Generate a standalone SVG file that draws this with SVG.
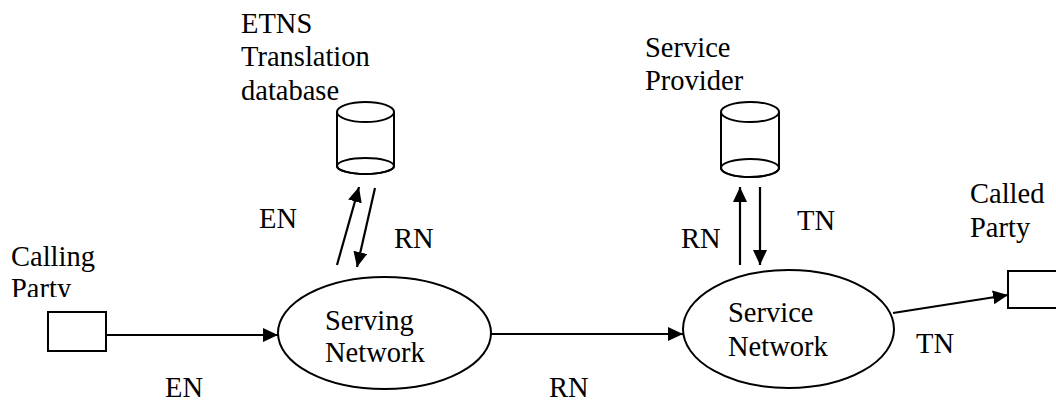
<svg xmlns="http://www.w3.org/2000/svg" width="1056" height="401" viewBox="0 0 1056 401">
<style>
text{font-family:"Liberation Serif","Times New Roman",serif;font-size:28.5px;fill:#000}
.s{fill:#fff;stroke:#000;stroke-width:2}
.c{stroke:#000;stroke-width:2.2;fill:none;marker-end:url(#ah)}
</style>
<defs>
<marker id="ah" markerUnits="userSpaceOnUse" markerWidth="16" markerHeight="14" refX="15" refY="7" orient="auto">
<path d="M0,0 L15,7 L0,14 z" fill="#000"/>
</marker>
<clipPath id="cp"><rect x="0" y="0" width="200" height="297"/></clipPath>
</defs>
<g id="calling-party">
<rect class="s" x="48" y="312" width="58" height="39"/>
<g clip-path="url(#cp)"><text x="11" y="266">Calling</text><text x="11" y="298">Party</text></g>
</g>
<g id="serving-network">
<ellipse class="s" cx="384.5" cy="333" rx="106.5" ry="56"/>
<text x="325" y="330">Serving</text>
<text x="325" y="362">Network</text>
</g>
<g id="service-network">
<ellipse class="s" cx="788.5" cy="329" rx="105.5" ry="59"/>
<text x="728" y="322">Service</text>
<text x="728" y="356">Network</text>
</g>
<g id="etns-db">
<path class="s" d="M337,112 L337,166 A28.5,8 0 0 0 394,166 L394,112"/>
<ellipse class="s" cx="365.5" cy="166" rx="28.5" ry="8" fill="none" style="fill:none"/>
<ellipse class="s" cx="365.5" cy="112" rx="28.5" ry="10"/>
<text x="241" y="33">ETNS</text>
<text x="241" y="66">Translation</text>
<text x="241" y="100">database</text>
</g>
<g id="service-provider">
<path class="s" d="M721,112 L721,168 A29,9 0 0 0 779,168 L779,112"/>
<ellipse class="s" cx="750" cy="168" rx="29" ry="9" style="fill:none"/>
<ellipse class="s" cx="750" cy="112" rx="29" ry="10"/>
<text x="645" y="57">Service</text>
<text x="645" y="90">Provider</text>
</g>
<g id="called-party">
<rect class="s" x="1008" y="271" width="60" height="37"/>
<text x="970" y="203">Called</text>
<text x="970" y="237">Party</text>
</g>
<g id="connectors">
<line class="c" x1="106" y1="335" x2="278" y2="335"/>
<line class="c" x1="491" y1="334" x2="683" y2="334"/>
<line class="c" x1="893" y1="313" x2="1008" y2="295"/>
<line class="c" x1="337" y1="265" x2="359" y2="187"/>
<line class="c" x1="375" y1="188" x2="357" y2="267"/>
<line class="c" x1="740" y1="265" x2="740" y2="187"/>
<line class="c" x1="760" y1="187" x2="760" y2="265"/>
<text x="165" y="397">EN</text>
<text x="549" y="397">RN</text>
<text x="916" y="353">TN</text>
<text x="259" y="228">EN</text>
<text x="394" y="248">RN</text>
<text x="681" y="248">RN</text>
<text x="797" y="230">TN</text>
</g>
</svg>
